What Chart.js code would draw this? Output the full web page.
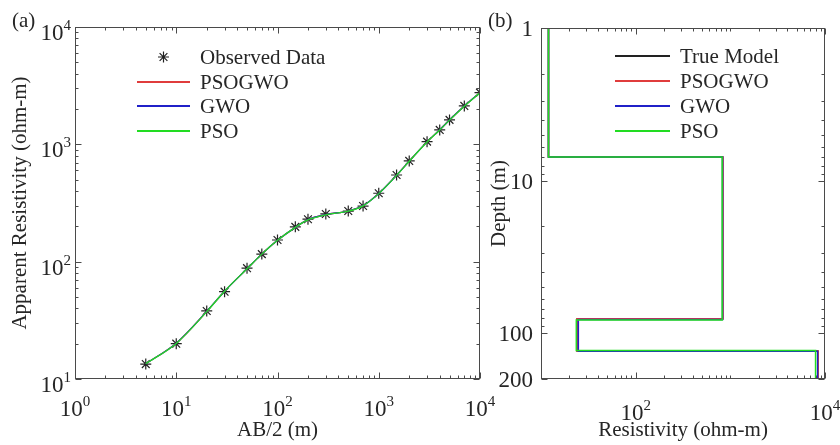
<!DOCTYPE html>
<html>
<head>
<meta charset="utf-8">
<script src="https://cdn.jsdelivr.net/npm/chart.js@4/dist/chart.umd.min.js"></script>
<style>
html, body { margin:0; padding:0; background:#fff; }
#wrap { position:relative; width:840px; height:445px; overflow:hidden; background:#fff; }
#cA { position:absolute; left:0; top:0; }
#cB { position:absolute; left:480px; top:0; }
</style>
</head>
<body>
<div id="wrap">
  <canvas id="cA" width="510" height="445"></canvas>
  <canvas id="cB" width="360" height="445"></canvas>
</div>
<script>
// panel (a): apparent resistivity sounding curve
const abHalf = [5, 10, 20, 30, 50, 70, 100, 150, 200, 300, 500, 700, 1000, 1500, 2000, 3000, 4000, 5000, 7000, 10000];
const rhoObserved = [13.4, 20, 38, 55.5, 88, 116, 153, 198, 230, 255, 270, 298, 383, 548, 722, 1054, 1327, 1615, 2125, 2760];
const rhoPSOGWO   = [13.5, 20.2, 37.6, 56, 87, 116, 152, 196, 228, 252, 270, 300, 382, 546, 720, 1050, 1330, 1612, 2120, 2760];
const rhoGWO      = [13.5, 20.2, 37.7, 56, 87, 116, 152, 196, 228, 252, 270, 300, 381, 545, 719, 1050, 1329, 1611, 2118, 2755];
const rhoPSO      = [13.5, 20.1, 37.5, 56, 87, 116, 152, 196, 227, 251, 269, 299, 380, 544, 718, 1048, 1326, 1608, 2115, 2750];
const abTicks = [1, 10, 100, 1000, 10000];
const abTickLabels = ['10^0', '10^1', '10^2', '10^3', '10^4'];
const rhoTicks = [10, 100, 1000, 10000];
const rhoTickLabels = ['10^1', '10^2', '10^3', '10^4'];

// panel (b): layered models - resistivity of each layer, depth of each interface
const trueRes     = [12, 830, 24, 8400];
const trueDepth   = [7, 81, 131];
const psogwoRes   = [12, 835, 24, 8450];
const psogwoDepth = [7, 80.5, 131];
const gwoRes      = [12, 828, 24.8, 8350];
const gwoDepth    = [7, 81.5, 131.5];
const psoRes      = [12, 820, 23.6, 7950];
const psoDepth    = [7, 82, 130];
const depthMin = 1, depthMax = 200;
const depthTicks = [1, 10, 100, 200];
const depthTickLabels = ['1', '10', '100', '200'];
const resTicks = [100, 10000];
const resTickLabels = ['10^2', '10^4'];

const serif = '"Liberation Serif", "Times New Roman", serif';
const ink = '#262626';
const frameColor = '#4a4a4a';
const cRed = '#e03c3c', cBlue = '#2020c8', cGreen = '#22dc22', cBlack = '#222222';

Chart.defaults.font.family = serif;
Chart.defaults.color = ink;

function stairs(res, depth){
  const edges = [depthMin, ...depth, depthMax];
  const pts = [];
  res.forEach((r, i) => {
    pts.push({x: r, y: edges[i]});
    pts.push({x: r, y: edges[i + 1]});
  });
  return pts;
}

function logSteps(min, max){
  const out = [];
  for(let p = Math.floor(Math.log10(min)); p <= Math.ceil(Math.log10(max)); p++){
    for(let k = 1; k < 10; k++){
      const v = k * Math.pow(10, p);
      if(v >= min * 0.999 && v <= max * 1.001) out.push(v);
    }
  }
  return out;
}

// '10^3' -> "10" with a raised "3"; y is the baseline of the base
function drawPow(ctx, label, x, y, align){
  const parts = label.split('^');
  ctx.font = `23px ${serif}`;
  const wb = ctx.measureText(parts[0]).width;
  let we = 0;
  if(parts[1]){ ctx.font = `15px ${serif}`; we = ctx.measureText(parts[1]).width; }
  const x0 = align === 'center' ? x - (wb + we) / 2 : x - (wb + we);
  ctx.textAlign = 'left';
  ctx.textBaseline = 'alphabetic';
  ctx.font = `23px ${serif}`;
  ctx.fillText(parts[0], x0, y);
  if(parts[1]){
    ctx.font = `15px ${serif}`;
    ctx.fillText(parts[1], x0 + wb, y - 10);
  }
}

// box, inward ticks on all four sides, tick labels and panel letter
const axesDeco = {
  id: 'axesDeco',
  afterDraw(chart, args, o){
    const {ctx, chartArea: a} = chart;
    const xs = chart.scales.x, ys = chart.scales.y;
    const L = Math.round(a.left) + 0.5, R = Math.round(a.right) - 0.5;
    const T = Math.round(a.top) + 0.5, B = Math.round(a.bottom) - 0.5;
    ctx.save();
    ctx.strokeStyle = frameColor;
    ctx.lineWidth = 1;
    ctx.strokeRect(L, T, R - L, B - T);
    ctx.beginPath();
    logSteps(xs.min, xs.max).forEach(v => {
      const px = Math.round(xs.getPixelForValue(v)) + 0.5;
      const len = o.xMajor.includes(v) ? 6 : 3;
      ctx.moveTo(px, B); ctx.lineTo(px, B - len);
      ctx.moveTo(px, T); ctx.lineTo(px, T + len);
    });
    logSteps(ys.min, ys.max).forEach(v => {
      const py = Math.round(ys.getPixelForValue(v)) + 0.5;
      const len = o.yMajor.includes(v) ? 6 : 3;
      ctx.moveTo(L, py); ctx.lineTo(L + len, py);
      ctx.moveTo(R, py); ctx.lineTo(R - len, py);
    });
    ctx.stroke();

    ctx.fillStyle = ink;
    o.xMajor.forEach((v, i) => drawPow(ctx, o.xLabels[i], xs.getPixelForValue(v), o.xLabelBase, 'center'));
    o.yMajor.forEach((v, i) => {
      const lab = o.yLabels[i];
      const shift = lab.includes('^') ? 13 : 8;
      drawPow(ctx, lab, o.yLabelRight, ys.getPixelForValue(v) + shift, 'right');
    });

    ctx.font = `21px ${serif}`;
    ctx.textAlign = 'left';
    ctx.textBaseline = 'alphabetic';
    ctx.fillText(o.letter, o.letterX, o.letterY);
    ctx.restore();
  }
};

function drawStar(ctx, x, y, r){
  const d = r * Math.SQRT1_2;
  ctx.beginPath();
  ctx.moveTo(x - r, y); ctx.lineTo(x + r, y);
  ctx.moveTo(x, y - r); ctx.lineTo(x, y + r);
  ctx.moveTo(x - d, y - d); ctx.lineTo(x + d, y + d);
  ctx.moveTo(x - d, y + d); ctx.lineTo(x + d, y - d);
  ctx.stroke();
}

// legend drawn inside the axes, no box
const boxLegend = {
  id: 'boxLegend',
  afterDraw(chart, args, o){
    const ctx = chart.ctx;
    ctx.save();
    chart.data.datasets.forEach((ds, i) => {
      const y = Math.round(o.top + i * o.step);
      ctx.strokeStyle = ds.borderColor;
      if(ds.showLine === false){
        ctx.lineWidth = 1.2;
        drawStar(ctx, (o.x0 + o.x1) / 2, y, 5.5);
      }else{
        ctx.lineWidth = 2;
        ctx.beginPath();
        ctx.moveTo(o.x0, y);
        ctx.lineTo(o.x1, y);
        ctx.stroke();
      }
      ctx.fillStyle = ink;
      ctx.font = `21px ${serif}`;
      ctx.textAlign = 'left';
      ctx.textBaseline = 'middle';
      ctx.fillText(ds.label, o.textX, y + 1);
    });
    ctx.restore();
  }
};

const pairs = ys => abHalf.map((x, i) => ({x: x, y: ys[i]}));

new Chart(document.getElementById('cA'), {
  type: 'scatter',
  data: {
    datasets: [
      { label: 'Observed Data', data: pairs(rhoObserved), showLine: false, pointStyle: 'star',
        pointRadius: 5.5, borderColor: cBlack, backgroundColor: cBlack, pointBorderWidth: 1.2, order: 4 },
      { label: 'PSOGWO', data: pairs(rhoPSOGWO), showLine: true, pointRadius: 0, borderColor: cRed,
        borderWidth: 1.3, cubicInterpolationMode: 'monotone', order: 3 },
      { label: 'GWO', data: pairs(rhoGWO), showLine: true, pointRadius: 0, borderColor: cBlue,
        borderWidth: 1.3, cubicInterpolationMode: 'monotone', order: 2 },
      { label: 'PSO', data: pairs(rhoPSO), showLine: true, pointRadius: 0, borderColor: cGreen,
        borderWidth: 1.3, cubicInterpolationMode: 'monotone', order: 1 }
    ]
  },
  options: {
    responsive: false,
    animation: false,
    layout: { padding: { left: 0, right: 30, top: 27, bottom: 0 } },
    plugins: {
      legend: { display: false },
      tooltip: { enabled: false },
      boxLegend: { x0: 137, x1: 190, textX: 200, top: 57, step: 24.7 },
      axesDeco: { xMajor: abTicks, xLabels: abTickLabels, yMajor: rhoTicks, yLabels: rhoTickLabels,
        xLabelBase: 416, yLabelRight: 71, letter: '(a)', letterX: 12, letterY: 27 }
    },
    scales: {
      x: {
        type: 'logarithmic', min: 1, max: 10000,
        grid: { display: false }, border: { display: false }, ticks: { display: false },
        title: { display: true, text: 'AB/2 (m)', color: ink, font: { size: 21 }, padding: { top: 0, bottom: 2 } },
        afterFit: s => { s.height = 66; }
      },
      y: {
        type: 'logarithmic', min: 10, max: 10000,
        grid: { display: false }, border: { display: false }, ticks: { display: false },
        title: { display: true, text: 'Apparent Resistivity (ohm-m)', color: ink, font: { size: 21 }, padding: { top: 8, bottom: 0 } },
        afterFit: s => { s.width = 75; }
      }
    }
  },
  plugins: [axesDeco, boxLegend]
});

new Chart(document.getElementById('cB'), {
  type: 'scatter',
  data: {
    datasets: [
      { label: 'True Model', data: stairs(trueRes, trueDepth), borderColor: cBlack, order: 4 },
      { label: 'PSOGWO', data: stairs(psogwoRes, psogwoDepth), borderColor: cRed, order: 3 },
      { label: 'GWO', data: stairs(gwoRes, gwoDepth), borderColor: cBlue, order: 2 },
      { label: 'PSO', data: stairs(psoRes, psoDepth), borderColor: cGreen, order: 1 }
    ].map(d => Object.assign(d, { showLine: true, pointRadius: 0, borderWidth: 1.5, tension: 0 }))
  },
  options: {
    responsive: false,
    animation: false,
    layout: { padding: { left: 0, right: 15, top: 28, bottom: 0 } },
    plugins: {
      legend: { display: false },
      tooltip: { enabled: false },
      boxLegend: { x0: 135, x1: 190, textX: 200, top: 56, step: 25 },
      axesDeco: { xMajor: resTicks, xLabels: resTickLabels, yMajor: depthTicks, yLabels: depthTickLabels,
        xLabelBase: 420, yLabelRight: 53, letter: '(b)', letterX: 8, letterY: 27 }
    },
    scales: {
      x: {
        type: 'logarithmic', min: 10, max: 10000,
        grid: { display: false }, border: { display: false }, ticks: { display: false },
        title: { display: true, text: 'Resistivity (ohm-m)', color: ink, font: { size: 21 }, padding: { top: 0, bottom: 2 } },
        afterFit: s => { s.height = 66; }
      },
      y: {
        type: 'logarithmic', min: depthMin, max: depthMax, reverse: true,
        grid: { display: false }, border: { display: false }, ticks: { display: false },
        title: { display: true, text: 'Depth (m)', color: ink, font: { size: 21 }, padding: { top: 7, bottom: 0 } },
        afterFit: s => { s.width = 61; }
      }
    }
  },
  plugins: [axesDeco, boxLegend]
});
</script>
</body>
</html>
